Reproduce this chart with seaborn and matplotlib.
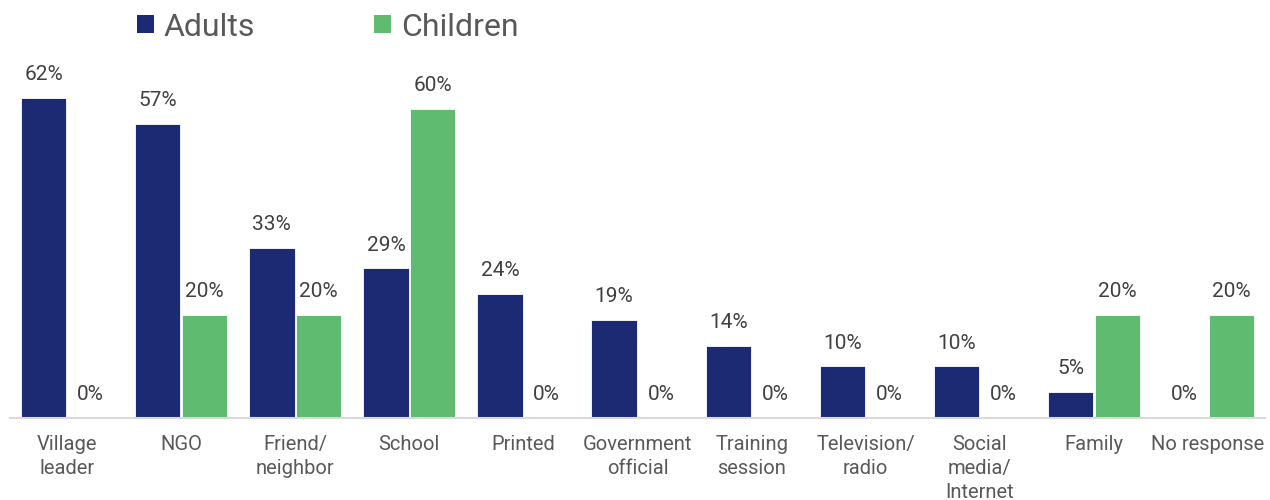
import matplotlib
matplotlib.use("Agg")
import matplotlib.pyplot as plt
import seaborn as sns
import pandas as pd
from matplotlib.patches import Patch

categories = ["Village\nleader", "NGO", "Friend/\nneighbor", "School", "Printed",
              "Government\nofficial", "Training\nsession", "Television/\nradio",
              "Social\nmedia/\nInternet", "Family", "No response"]
adults = [62, 57, 33, 29, 24, 19, 14, 10, 10, 5, 0]
children = [0, 20, 20, 60, 0, 0, 0, 0, 0, 20, 20]
series = ["Adults", "Children"]
colors = ["#1B2A73", "#5FBB6F"]

df = pd.DataFrame({
    "source": categories * 2,
    "share": adults + children,
    "group": [series[0]] * len(categories) + [series[1]] * len(categories),
})

sns.set_theme(style="white")
plt.rcParams["font.family"] = ["Roboto", "DejaVu Sans"]

fig = plt.figure(figsize=(12.7, 5.0), dpi=100)
ax = fig.add_axes([10 / 1270, 82 / 500, 1255 / 1270, 361 / 500])

sns.barplot(data=df, x="source", y="share", hue="group", palette=colors,
            saturation=1, width=0.82, gap=0.03, edgecolor="white", linewidth=0.6,
            ax=ax, legend=False)

for cont in ax.containers:
    ax.bar_label(cont, fmt="%d%%", padding=10, fontsize=15, color="#404040")

ax.set_ylim(0, 70)
ax.set_xlim(-0.5, len(categories) - 0.5)
ax.set_xlabel("")
ax.set_ylabel("")
ax.set_yticks([])
for side in ["left", "right", "top"]:
    ax.spines[side].set_visible(False)
ax.spines["bottom"].set_color("#D9D9D9")
ax.spines["bottom"].set_linewidth(1.5)
ax.tick_params(axis="x", length=0, pad=12, labelsize=14.5, labelcolor="#595959")
for lbl in ax.get_xticklabels():
    lbl.set_linespacing(1.33)
    lbl.set_verticalalignment("top")

handles = [Patch(facecolor=c, edgecolor="none") for c in colors]
fig.legend(handles, series, loc="center left", bbox_to_anchor=(137 / 1270, 1 - 27 / 500),
           ncol=2, frameon=False, fontsize=23, labelcolor="#595959",
           handlelength=0.52, handleheight=0.52, handletextpad=0.3,
           columnspacing=3.75, borderaxespad=0, borderpad=0)

fig.savefig("out.png", dpi=100, facecolor="white")
